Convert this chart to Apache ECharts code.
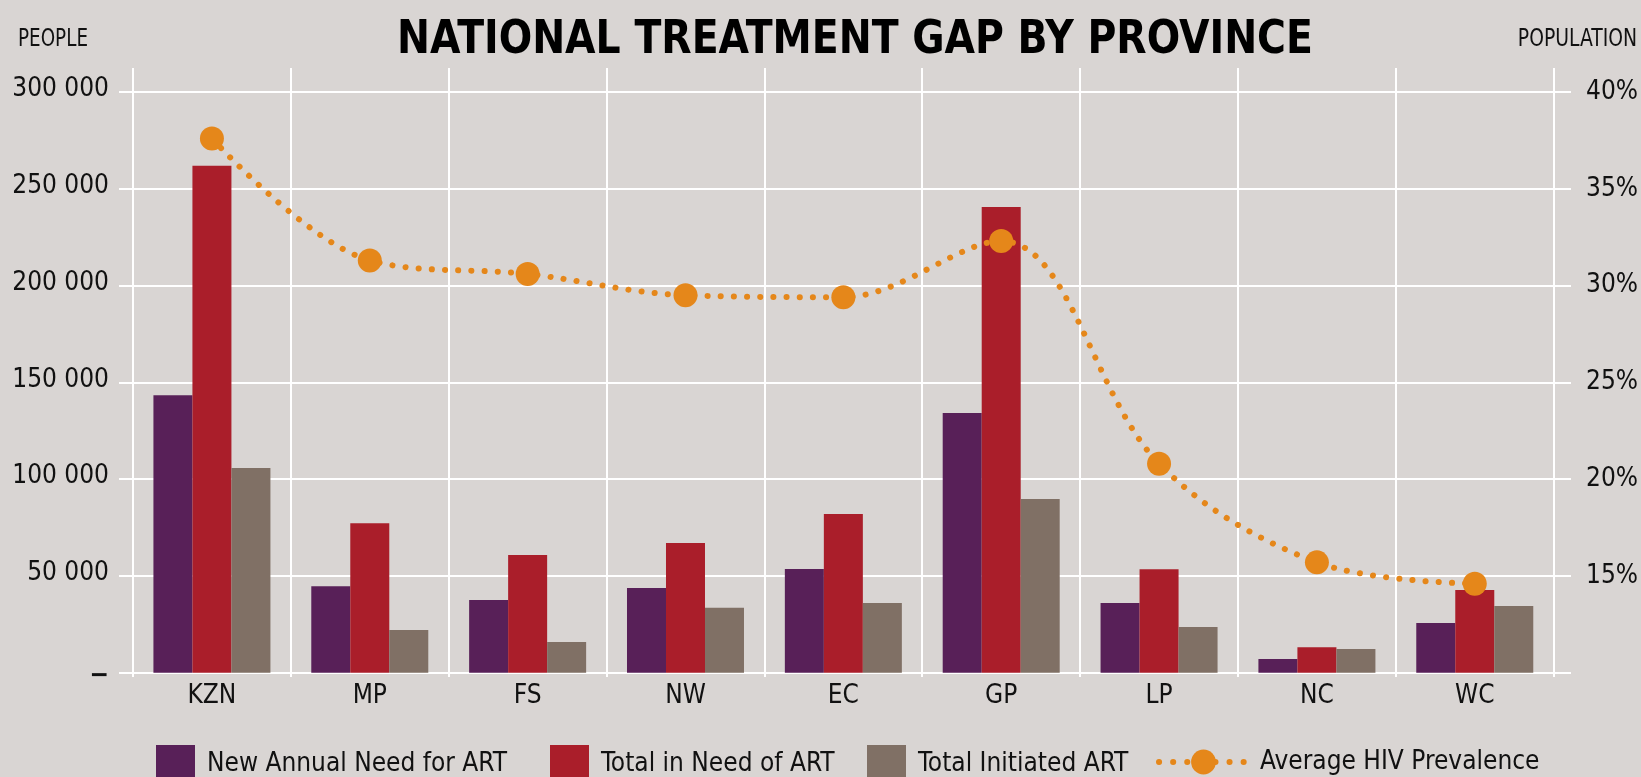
<!DOCTYPE html>
<html>
<head>
<meta charset="utf-8">
<title>National Treatment Gap by Province</title>
<script src="https://cdn.jsdelivr.net/npm/echarts@6/dist/echarts.min.js"></script>
<style>
  html, body { margin: 0; padding: 0; background: #d9d5d3; }
  #main { width: 1641px; height: 777px; }
</style>
</head>
<body>
<div id="main"></div>
<script>
// values
const provinces = ['KZN', 'MP', 'FS', 'NW', 'EC', 'GP', 'LP', 'NC', 'WC'];
const newAnnualNeed = [143300, 44700, 37500, 43800, 53600, 134200, 36000, 7100, 25700];
const totalInNeed = [261900, 77200, 60800, 67000, 82000, 240600, 53500, 13200, 42700];
const totalInitiated = [105700, 22000, 15900, 33500, 36000, 89700, 23600, 12300, 34500];
const hivPrevalence = [37.6, 31.3, 30.6, 29.5, 29.4, 32.3, 20.8, 15.7, 14.6];

const seriesNames = ['New Annual Need for ART', 'Total in Need of ART', 'Total Initiated ART', 'Average HIV Prevalence'];
const colors = ['#582058', '#aa1e2a', '#807065', '#e5871a'];

const FONT = "'DejaVu Sans Condensed', 'Liberation Sans', sans-serif";
const LABEL_SIZE = 26;

function spaced(v) {
  return String(v).replace(/\B(?=(\d{3})+(?!\d))/g, ' ');
}

const chart = echarts.init(document.getElementById('main'));

// grid 0 : horizontal lines + axis labels, grid 1 : series, grid 2 : vertical lines
const option = {
  backgroundColor: '#d9d5d3',
  animation: false,
  textStyle: { fontFamily: FONT },
  grid: [
    { left: 119, right: 70, top: 92, bottom: 104.3, outerBoundsMode: 'none' },
    { left: 133, right: 87.3, top: 92, bottom: 104.3, outerBoundsMode: 'none' },
    { left: 132.7, right: 87.3, top: 68, bottom: 100, outerBoundsMode: 'none' }
  ],
  xAxis: [
    { gridIndex: 0, type: 'value', show: false },
    {
      gridIndex: 1, type: 'category', data: provinces,
      axisLine: { show: false }, axisTick: { show: false }, splitLine: { show: false },
      axisLabel: { color: '#111', fontSize: LABEL_SIZE, fontFamily: FONT, margin: 11 }
    },
    {
      gridIndex: 2, type: 'category', data: provinces,
      axisLine: { show: false }, axisTick: { show: false }, axisLabel: { show: false },
      splitLine: { show: true, lineStyle: { color: '#ffffff', width: 2 } }
    }
  ],
  yAxis: [
    {
      gridIndex: 0, type: 'value', min: 0, max: 300000, interval: 50000,
      axisLine: { show: false }, axisTick: { show: false },
      splitLine: { lineStyle: { color: '#ffffff', width: 2 } },
      axisLabel: {
        color: '#111', fontSize: LABEL_SIZE, fontFamily: FONT, margin: 10, padding: [0, 0, 5, 0],
        formatter: v => v === 0 ? '{d|−}' : spaced(v),
        rich: { d: { fontSize: LABEL_SIZE, fontWeight: 'bold', fontFamily: FONT, color: '#111', padding: [12, 0, 0, 0] } }
      }
    },
    {
      gridIndex: 0, type: 'value', min: 10, max: 40, interval: 5, position: 'right',
      axisLine: { show: false }, axisTick: { show: false }, splitLine: { show: false },
      axisLabel: {
        color: '#111', fontSize: LABEL_SIZE, fontFamily: FONT, margin: 15, padding: [0, 0, 5, 0],
        formatter: v => v === 10 ? '' : v + '%'
      }
    },
    { gridIndex: 1, type: 'value', min: 0, max: 300000, show: false, splitLine: { show: false } },
    { gridIndex: 1, type: 'value', min: 10, max: 40, show: false, splitLine: { show: false } },
    { gridIndex: 2, type: 'value', show: false, splitLine: { show: false } }
  ],
  legend: [
    { data: [seriesNames[0]], left: 156, top: 745, icon: 'rect', itemWidth: 39, itemHeight: 39 },
    { data: [seriesNames[1]], left: 550, top: 745, icon: 'rect', itemWidth: 39, itemHeight: 39 },
    { data: [seriesNames[2]], left: 867, top: 745, icon: 'rect', itemWidth: 39, itemHeight: 39 },
    {
      data: [seriesNames[3]], left: 1156, top: 749, itemWidth: 89, itemHeight: 31,
      lineStyle: { color: colors[3], width: 6, type: [0.1, 14], cap: 'round' }
    }
  ].map(l => Object.assign(l, {
    padding: 0, selectedMode: false,
    textStyle: { color: '#111', fontSize: LABEL_SIZE, fontFamily: FONT, padding: [0, 0, 0, 7] }
  })),
  series: [
    { name: seriesNames[0], type: 'bar', xAxisIndex: 1, yAxisIndex: 2, data: newAnnualNeed, barWidth: 39, barGap: '0%', itemStyle: { color: colors[0] } },
    { name: seriesNames[1], type: 'bar', xAxisIndex: 1, yAxisIndex: 2, data: totalInNeed, barWidth: 39, barGap: '0%', itemStyle: { color: colors[1] } },
    { name: seriesNames[2], type: 'bar', xAxisIndex: 1, yAxisIndex: 2, data: totalInitiated, barWidth: 39, barGap: '0%', itemStyle: { color: colors[2] } },
    {
      name: seriesNames[3], type: 'line', xAxisIndex: 1, yAxisIndex: 3, data: hivPrevalence,
      smooth: 0.35, symbol: 'circle', symbolSize: 24, z: 5,
      itemStyle: { color: colors[3] },
      lineStyle: { color: colors[3], width: 6, type: [0.1, 13.1], cap: 'round' }
    }
  ],
  graphic: [
    {
      type: 'text', x: 855, y: 41, scaleX: 0.952,
      style: { text: 'NATIONAL TREATMENT GAP BY PROVINCE', font: 'bold 46px ' + FONT, fill: '#000', align: 'center', verticalAlign: 'middle' }
    },
    {
      type: 'text', x: 18, y: 40, scaleX: 0.85,
      style: { text: 'PEOPLE', font: '24px ' + FONT, fill: '#111', align: 'left', verticalAlign: 'middle' }
    },
    {
      type: 'text', x: 1637, y: 40, scaleX: 0.87,
      style: { text: 'POPULATION', font: '24px ' + FONT, fill: '#111', align: 'right', verticalAlign: 'middle' }
    }
  ]
};

chart.setOption(option);
</script>
</body>
</html>
